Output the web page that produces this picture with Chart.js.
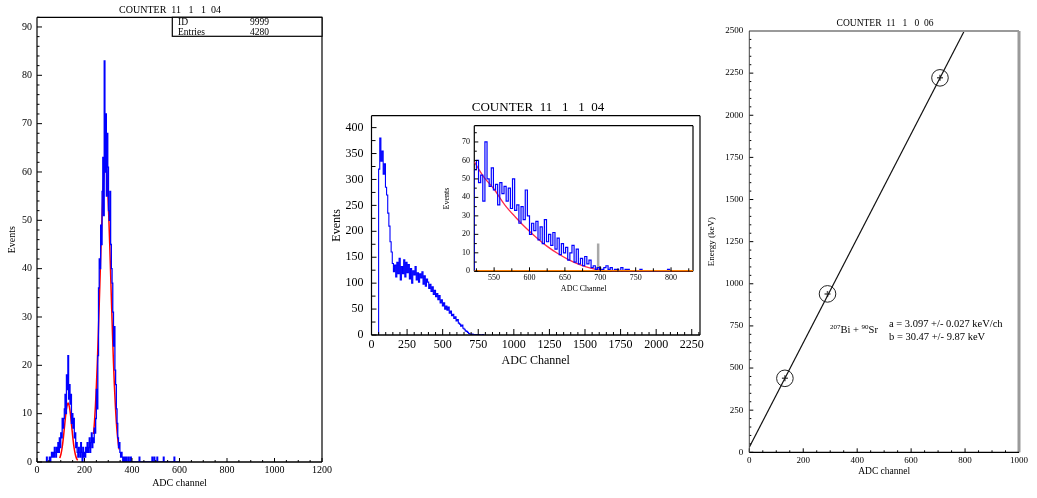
<!DOCTYPE html>
<html>
<head>
<meta charset="utf-8">
<script src="https://cdn.jsdelivr.net/npm/chart.js@4.4.1/dist/chart.umd.min.js"></script>
<style>
  html, body { margin: 0; padding: 0; background: #fff; }
  body { width: 1037px; height: 498px; position: relative; overflow: hidden; }
  .panel { position: absolute; }
</style>
</head>
<body>
<div class="panel" style="left:0;top:0;width:340px;height:498px"><canvas id="leftChart"></canvas></div>
<div class="panel" style="left:330px;top:95px;width:380px;height:280px"><canvas id="midChart"></canvas></div>
<div class="panel" style="left:440px;top:118px;width:260px;height:182px"><canvas id="insetChart"></canvas></div>
<div class="panel" style="left:700px;top:0;width:337px;height:498px"><canvas id="rightChart"></canvas></div>
<script>
const SERIF = "'Liberation Serif', 'Times New Roman', serif";

// ------------- left panel: two peaks -------------
const leftStart = 40, leftBin = 3;   // first channel, bin width
const leftCounts = [
  1, 0, 0, 0, 1, 0, 1, 2, 1, 2,
  1, 3, 2, 1, 3, 2, 4, 2, 5, 3,
  6, 5, 9, 7, 9, 11, 14, 10, 18, 15,
  22, 13, 16, 12, 14, 8, 10, 7, 9, 5,
  6, 3, 4, 2, 1, 3, 2, 1, 4, 2,
  0, 3, 1, 2, 1, 3, 2, 4, 2, 3,
  5, 2, 4, 6, 3, 5, 4, 7, 6, 9,
  15, 11, 22, 36, 42, 40, 49, 45, 56, 63,
  51, 83, 60, 72, 55, 68, 61, 52, 50, 56,
  45, 40, 37, 31, 24, 28, 19, 16, 11, 8,
  5, 3, 4, 2, 1, 2, 1, 0, 1, 0,
  1, 0, 1, 0, 0, 1, 0, 0, 1, 0,
  0, 0, 0, 0, 0, 0, 0, 0, 0, 0,
  1, 0, 0, 0, 0, 0, 0, 0, 0, 0,
  0, 0, 0, 0, 0, 0, 0, 0, 1, 0,
  0, 1, 0, 0, 0, 1, 0, 0, 0, 0,
  0, 0, 0, 0, 1, 0, 0, 0, 0, 0,
  0, 0, 0, 0, 0, 0, 0, 0, 0, 1,
  0, 0, 0, 0, 0, 0, 0
];
const leftFit1X = [96, 101, 106, 111, 116, 121, 126, 131, 136, 141, 146, 151, 156, 161, 166, 171];
const leftFit1Y = [0.8, 1.65, 3.0, 5.0, 7.4, 9.8, 11.5, 12.2, 11.5, 9.8, 7.4, 5.0, 3.0, 1.65, 0.8, 0.35];
const leftFit2X = [238, 242, 246, 250, 254, 258, 262, 266, 270, 274, 278, 282, 286, 290, 294, 298, 302, 306, 310, 314, 318, 322, 326, 330, 334, 338, 342, 346];
const leftFit2Y = [5.8, 8.3, 11.6, 15.7, 20.6, 26.3, 32.5, 38.9, 45.3, 51.1, 56.0, 59.5, 61.3, 61.3, 59.5, 56.0, 51.1, 45.3, 38.9, 32.5, 26.3, 20.6, 15.7, 11.6, 8.3, 5.8, 3.9, 2.6];
const leftTicksX = [0, 200, 400, 600, 800, 1000, 1200];
const leftTicksY = [0, 10, 20, 30, 40, 50, 60, 70, 80, 90];

// ------------- middle panel: full spectrum -------------
const midStart = 50, midBin = 8;
const midCounts = [
  320, 380, 335, 355, 310, 330, 285, 270, 235, 210,
  180, 160, 138, 122, 135, 112, 140, 118, 148, 106,
  132, 118, 145, 112, 140, 120, 136, 108, 128, 100,
  124, 116, 132, 106, 120, 102, 118, 110, 122, 98,
  114, 94, 108, 102, 90, 98, 84, 93, 78, 86,
  74, 80, 68, 76, 62, 68, 56, 62, 50, 56,
  48, 54, 42, 46, 37, 40, 32, 35, 27, 30,
  23, 21, 17, 19, 13, 11, 8, 7, 5, 3,
  2, 1, 2, 0, 1, 0, 1, 0, 1, 0,
  0, 1, 0
];
const midTicksX = [0, 250, 500, 750, 1000, 1250, 1500, 1750, 2000, 2250];
const midTicksY = [0, 50, 100, 150, 200, 250, 300, 350, 400];

// ------------- inset: end of the spectrum -------------
const insetStart = 522, insetBin = 3;
const insetCounts = [
  55, 60, 48, 52, 38, 70, 50, 46, 56, 44,
  47, 36, 48, 42, 46, 38, 45, 34, 50, 33,
  36, 26, 35, 28, 44, 30, 20, 26, 22, 27,
  17, 24, 15, 28, 16, 20, 14, 21, 12, 18,
  9, 15, 10, 13, 6, 10, 14, 5, 12, 4,
  7, 3, 8, 4, 6, 2, 3, 1, 2, 0,
  1, 2, 3, 1, 2, 0, 1, 1, 0, 2,
  0, 1, 1, 0, 0, 0, 0, 0, 1, 0,
  0, 0, 0, 0, 0, 0, 0, 0, 0, 0,
  0, 1, 0
];
const insetFitX = [522, 535, 550, 565, 580, 595, 610, 625, 640, 655, 670, 685, 700, 715, 730, 830];
const insetFitY = [59.3, 51.3, 44.4, 36.0, 29.4, 23.4, 18.2, 13.5, 9.6, 6.3, 3.75, 1.8, 0.6, 0.05, 0, 0];
const insetBaseX = [522, 831];
const endpointX = [697, 697];
const endpointY = [0, 15];
const insetTicksX = [550, 600, 650, 700, 750, 800];
const insetTicksY = [0, 10, 20, 30, 40, 50, 60, 70];

// ------------- right panel: calibration -------------
const calibCh = [132, 290, 707];
const calibE = [439, 940, 2222];
const fitLineCh = [0, 797];
const fitLineE = [30.5, 2500];
const rightTicksX = [0, 200, 400, 600, 800, 1000];
const rightTicksY = [0, 250, 500, 750, 1000, 1250, 1500, 1750, 2000, 2250, 2500];

// ------------- helpers -------------
function histPoints(start, width, counts) {
  const pts = [{x: start, y: 0}];
  counts.forEach((c, i) => pts.push({x: start + i * width, y: c}));
  pts.push({x: start + counts.length * width, y: 0});
  return pts;
}
function zip(xs, ys) {
  return xs.map((x, i) => ({x: x, y: ys[i]}));
}

// ticks pointing into the plot
const innerTicks = {
  id: 'innerTicks',
  afterDatasetsDraw(chart, args, opts) {
    const ctx = chart.ctx, a = chart.chartArea;
    ctx.save();
    ctx.strokeStyle = '#000';
    ctx.lineWidth = 1;
    ['x', 'y'].forEach(id => {
      const s = chart.scales[id], t = opts[id];
      if (!t) return;
      for (let v = Math.ceil(s.min / t.minor) * t.minor; v <= s.max + 1e-9; v += t.minor) {
        const major = Math.abs(v / t.major - Math.round(v / t.major)) < 1e-6;
        const len = major ? t.majLen : t.minLen;
        const p = s.getPixelForValue(v);
        ctx.beginPath();
        if (id === 'x') { ctx.moveTo(p, a.bottom); ctx.lineTo(p, a.bottom - len); }
        else { ctx.moveTo(a.left, p); ctx.lineTo(a.left + len, p); }
        ctx.stroke();
      }
    });
    ctx.restore();
  }
};

// box around the plot area
function drawFrame(chart, opts) {
  const ctx = chart.ctx, a = chart.chartArea;
  const sides = [
    ['top', a.left, a.top, a.right, a.top],
    ['right', a.right, a.top, a.right, a.bottom],
    ['bottom', a.left, a.bottom, a.right, a.bottom],
    ['left', a.left, a.top, a.left, a.bottom]
  ];
  ctx.save();
  sides.forEach(([k, x1, y1, x2, y2]) => {
    const s = opts[k];
    if (!s) return;
    ctx.strokeStyle = s[0];
    ctx.lineWidth = s[1];
    ctx.beginPath(); ctx.moveTo(x1, y1); ctx.lineTo(x2, y2); ctx.stroke();
  });
  ctx.restore();
}
const frame = {
  id: 'frame',
  beforeDatasetsDraw(chart, args, opts) { if (opts.under) drawFrame(chart, opts); },
  afterDraw(chart, args, opts) { if (!opts.under) drawFrame(chart, opts); }
};

// titles, stat box, annotations
const texts = {
  id: 'texts',
  afterDraw(chart, args, opts) {
    const ctx = chart.ctx;
    (opts.boxes || []).forEach(b => {
      ctx.save();
      ctx.fillStyle = '#fff';
      ctx.fillRect(b.x, b.y, b.w, b.h);
      ctx.strokeStyle = '#000';
      ctx.lineWidth = 1.2;
      ctx.strokeRect(b.x, b.y, b.w, b.h);
      ctx.restore();
    });
    (opts.items || []).forEach(t => {
      ctx.save();
      ctx.fillStyle = '#000';
      if (t.runs) {
        ctx.textAlign = 'left';
        ctx.textBaseline = 'alphabetic';
        let x = t.x;
        t.runs.forEach(([txt, size, dy]) => {
          ctx.font = size + 'px ' + SERIF;
          ctx.fillText(txt, x, t.y + dy);
          x += ctx.measureText(txt).width;
        });
      } else {
        ctx.font = t.size + 'px ' + SERIF;
        ctx.textAlign = t.align || 'left';
        ctx.textBaseline = 'middle';
        ctx.fillText(t.text, t.x, t.y);
      }
      ctx.restore();
    });
  }
};

// common axis builder
function axis(opt) {
  const horiz = opt.horiz;
  return {
    type: 'linear',
    min: opt.min, max: opt.max,
    grid: { display: true, drawOnChartArea: false, drawTicks: false },
    border: { display: false },
    ticks: {
      autoSkip: false, maxRotation: 0, padding: opt.pad,
      color: '#000',
      font: { family: SERIF, size: opt.font },
      callback: v => String(v)
    },
    title: {
      display: true, text: opt.title, color: '#000',
      font: { family: SERIF, size: opt.titleSize, lineHeight: 1 },
      padding: horiz ? { top: 0, bottom: opt.titlePad } : { top: opt.titlePad, bottom: 0 }
    },
    afterBuildTicks: s => { s.ticks = opt.ticks.map(v => ({value: v})); },
    afterFit: s => {
      if (horiz) { s.height = opt.size; s.paddingLeft = 0; s.paddingRight = 0; }
      else { s.width = opt.size; s.paddingTop = 0; s.paddingBottom = 0; }
    }
  };
}

function baseOptions(padTop, padRight) {
  return {
    responsive: true, maintainAspectRatio: false, animation: false, events: [],
    layout: { autoPadding: false, padding: { top: padTop, right: padRight, left: 0, bottom: 0 } },
    elements: { point: { radius: 0 } }
  };
}

// ------------- left chart -------------
let opcIzq = baseOptions(17.3, 18);
opcIzq.plugins = {
  legend: { display: false }, tooltip: { enabled: false },
  innerTicks: { x: { major: 200, minor: 50, majLen: 4, minLen: 2 }, y: { major: 10, minor: 2, majLen: 5, minLen: 2.5 } },
  frame: { top: ['#000', 1.2], right: ['#000', 1.2], bottom: ['#000', 1.3], left: ['#000', 1.2] },
  texts: {
    boxes: [{ x: 172.3, y: 17.3, w: 149.7, h: 19 }],
    items: [
      { text: 'COUNTER  11   1   1  04', x: 170, y: 10.5, size: 10, align: 'center' },
      { text: 'ID', x: 178, y: 22, size: 9.5 },
      { text: '9999', x: 269, y: 22, size: 9.5, align: 'right' },
      { text: 'Entries', x: 178, y: 32, size: 9.5 },
      { text: '4280', x: 269, y: 32, size: 9.5, align: 'right' }
    ]
  }
};
opcIzq.scales = {
  x: axis({ horiz: true, min: 0, max: 1200, ticks: leftTicksX, pad: 2, font: 10, title: 'ADC channel', titleSize: 10, titlePad: 10, size: 36 }),
  y: axis({ horiz: false, min: 0, max: 92, ticks: leftTicksY, pad: 5, font: 10, title: 'Events', titleSize: 10, titlePad: 7, size: 37 })
};
new Chart(document.getElementById('leftChart'), {
  type: 'line',
  data: {
    datasets: [
      { data: histPoints(leftStart, leftBin, leftCounts), borderColor: '#0000ff', borderWidth: 1.3, stepped: true },
      { data: zip(leftFit1X, leftFit1Y), borderColor: '#ff0000', borderWidth: 1.5, cubicInterpolationMode: 'monotone' },
      { data: zip(leftFit2X, leftFit2Y), borderColor: '#ff0000', borderWidth: 1.5, cubicInterpolationMode: 'monotone' }
    ]
  },
  options: opcIzq,
  plugins: [innerTicks, frame, texts]
});

// ------------- middle chart -------------
let opcCentro = baseOptions(20.7, 10);
opcCentro.plugins = {
  legend: { display: false }, tooltip: { enabled: false },
  innerTicks: { x: { major: 250, minor: 50, majLen: 6, minLen: 3 }, y: { major: 50, minor: 25, majLen: 5, minLen: 4 } },
  frame: { top: ['#000', 1.2], right: ['#000', 1.2], bottom: ['#000', 1.3], left: ['#000', 1.2] },
  texts: { items: [{ text: 'COUNTER  11   1   1  04', x: 208, y: 12.7, size: 13, align: 'center' }] }
};
opcCentro.scales = {
  x: axis({ horiz: true, min: 0, max: 2308, ticks: midTicksX, pad: 2.8, font: 12, title: 'ADC Channel', titleSize: 12, titlePad: 8, size: 40 }),
  y: axis({ horiz: false, min: 0, max: 423, ticks: midTicksY, pad: 8, font: 12, title: 'Events', titleSize: 12, titlePad: 1, size: 41.5 })
};
new Chart(document.getElementById('midChart'), {
  type: 'line',
  data: {
    datasets: [
      { data: histPoints(midStart, midBin, midCounts), borderColor: '#0000ff', borderWidth: 1.1, stepped: true }
    ]
  },
  options: opcCentro,
  plugins: [innerTicks, frame, texts]
});

// ------------- inset chart -------------
let opcInset = baseOptions(7.7, 7);
opcInset.plugins = {
  legend: { display: false }, tooltip: { enabled: false },
  innerTicks: { x: { major: 50, minor: 25, majLen: 4, minLen: 3 }, y: { major: 10, minor: 5, majLen: 4, minLen: 2.5 } },
  frame: { under: true, top: ['#000', 1.2], right: ['#000', 1.2], bottom: ['#000', 1.2], left: ['#000', 1.2] }
};
opcInset.scales = {
  x: axis({ horiz: true, min: 522, max: 831, ticks: insetTicksX, pad: 1.8, font: 8, title: 'ADC Channel', titleSize: 8, titlePad: 6.7, size: 28.7 }),
  y: axis({ horiz: false, min: 0, max: 78.8, ticks: insetTicksY, pad: 4.3, font: 8, title: 'Events', titleSize: 8, titlePad: 3, size: 34.3 })
};
new Chart(document.getElementById('insetChart'), {
  type: 'line',
  data: {
    datasets: [
      { data: zip(insetBaseX, [0, 0]), borderColor: '#ff7f00', borderWidth: 2.5 },
      { data: histPoints(insetStart, insetBin, insetCounts), borderColor: '#0000ff', borderWidth: 1.2, stepped: true },
      { data: zip(insetFitX, insetFitY), borderColor: '#ff2a4a', borderWidth: 1.3, cubicInterpolationMode: 'monotone' },
      { data: zip(endpointX, endpointY), borderColor: '#a8a8a8', borderWidth: 2.5 },
      { data: [{ x: 698, y: 1.5 }], showLine: false, pointStyle: 'rect', pointRadius: 2.5, borderColor: '#000', borderWidth: 1, backgroundColor: 'rgba(0,0,0,0)' }
    ]
  },
  options: opcInset,
  plugins: [innerTicks, frame]
});

// ------------- right chart -------------
let opcDer = baseOptions(31, 18);
opcDer.plugins = {
  legend: { display: false }, tooltip: { enabled: false },
  innerTicks: { x: { major: 200, minor: 50, majLen: 4, minLen: 2 }, y: { major: 250, minor: 50, majLen: 4, minLen: 2 } },
  frame: { top: ['#9a9a9a', 2], right: ['#9a9a9a', 3], bottom: ['#000', 1.3], left: ['#444', 1] },
  texts: {
    items: [
      { text: 'COUNTER  11   1   0  06', x: 185, y: 23.7, size: 9.5, align: 'center' },
      { text: 'a = 3.097 +/- 0.027 keV/ch', x: 189, y: 324, size: 10.5 },
      { text: 'b = 30.47 +/- 9.87 keV', x: 189, y: 337.7, size: 10.5 },
      { x: 130, y: 333.3, runs: [['207', 7, -4.5], ['Bi + ', 10.5, 0], ['90', 7, -4.5], ['Sr', 10.5, 0]] }
    ]
  }
};
opcDer.scales = {
  x: axis({ horiz: true, min: 0, max: 1000, ticks: rightTicksX, pad: 3, font: 9, title: 'ADC channel', titleSize: 9.5, titlePad: 21.5, size: 45.7 }),
  y: axis({ horiz: false, min: 0, max: 2500, ticks: rightTicksY, pad: 6, font: 9, title: 'Energy (keV)', titleSize: 9, titlePad: 7.5, size: 49.3 })
};
new Chart(document.getElementById('rightChart'), {
  type: 'line',
  data: {
    datasets: [
      { data: zip(fitLineCh, fitLineE), borderColor: '#111', borderWidth: 1.2 },
      { data: zip(calibCh, calibE), showLine: false, pointStyle: 'circle', pointRadius: 8.3, borderColor: '#222', borderWidth: 1, backgroundColor: 'rgba(0,0,0,0)' },
      { data: zip(calibCh, calibE), showLine: false, pointStyle: 'cross', pointRadius: 3, borderColor: '#555', borderWidth: 1.5 }
    ]
  },
  options: opcDer,
  plugins: [innerTicks, frame, texts]
});
</script>
</body>
</html>
